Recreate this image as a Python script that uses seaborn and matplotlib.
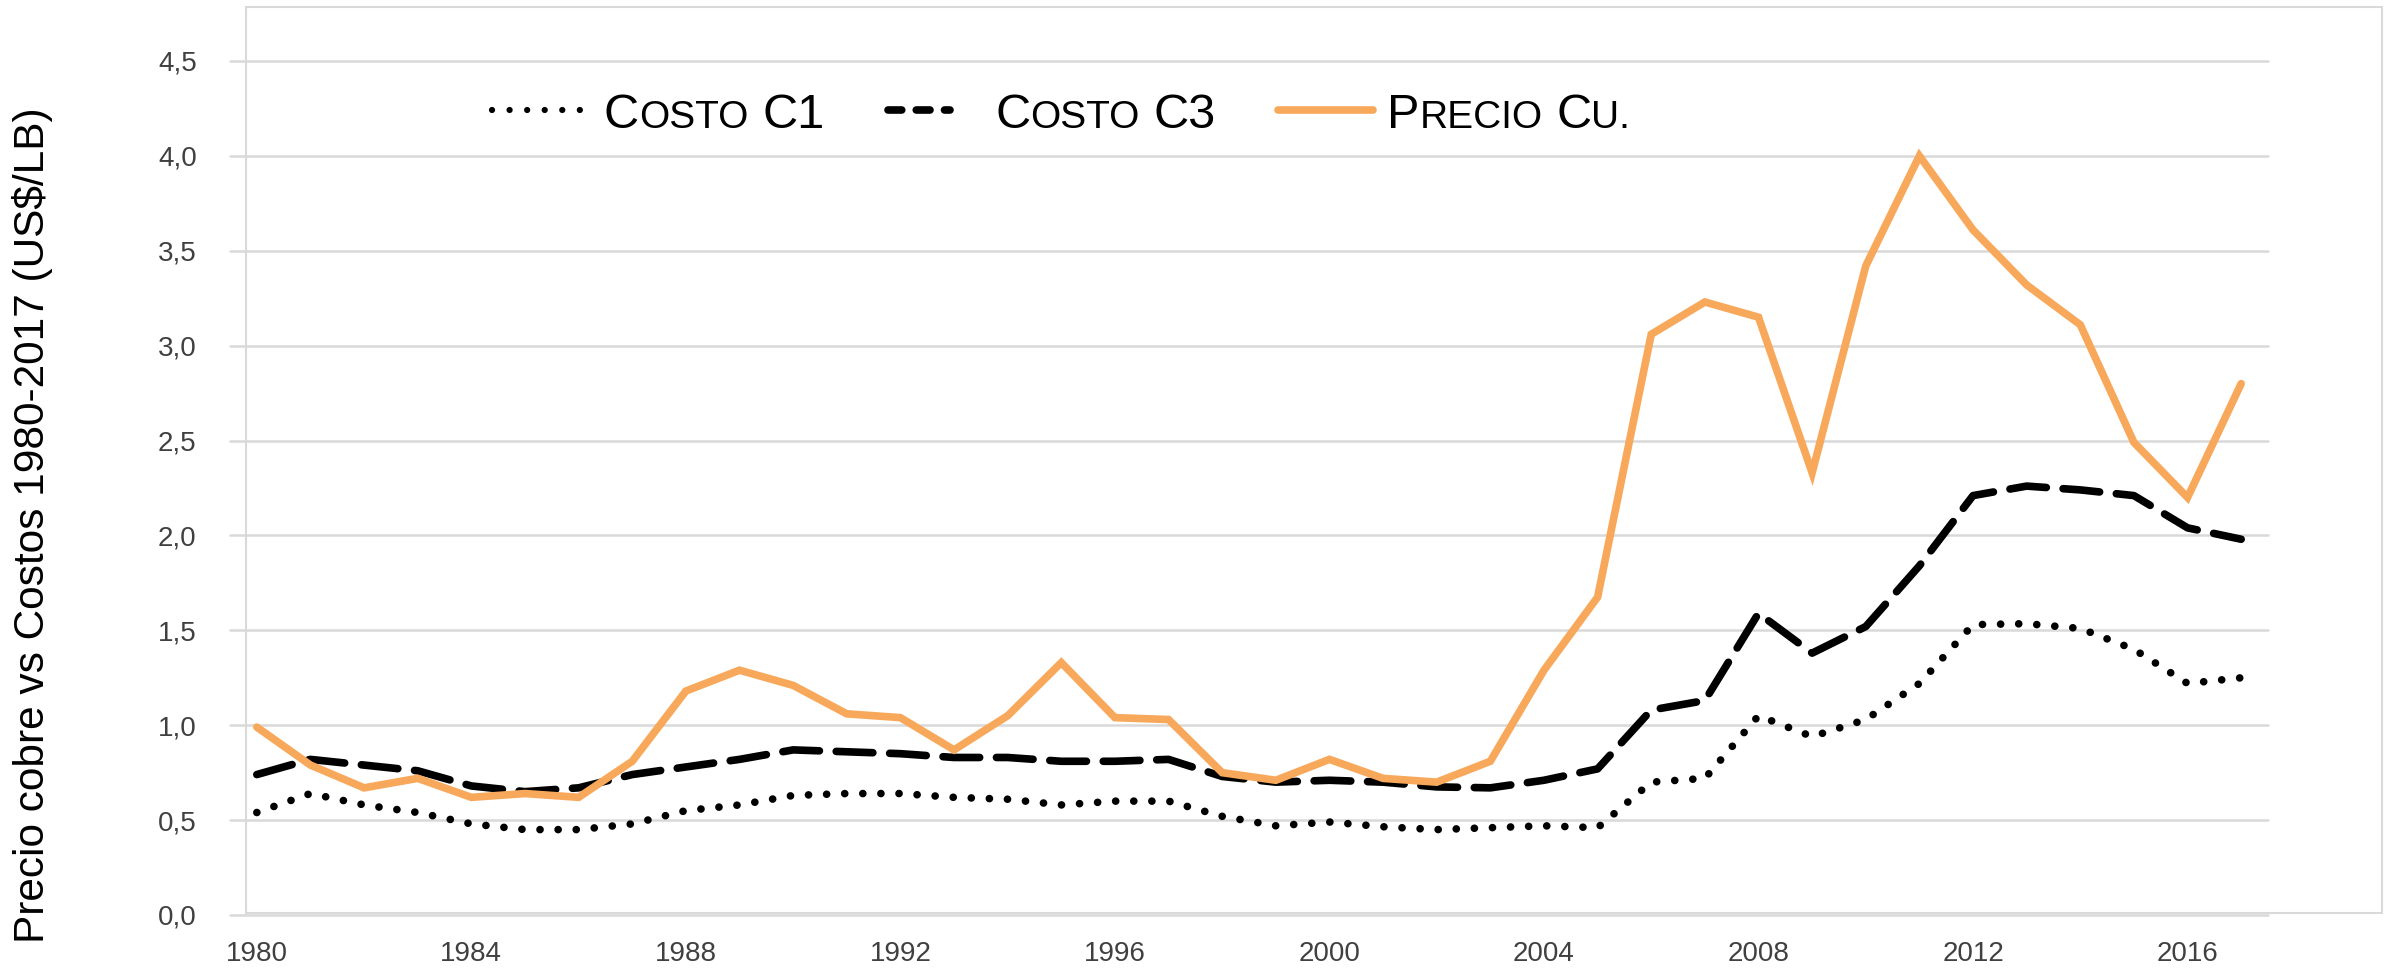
import numpy as np
import pandas as pd
import matplotlib
matplotlib.use("Agg")
import matplotlib.pyplot as plt
import seaborn as sns
from matplotlib.lines import Line2D
from matplotlib.patches import Rectangle

# ---------------- data ----------------
years = list(range(1980, 2018))
precio_cu = [0.99, 0.79, 0.67, 0.72, 0.62, 0.64, 0.62, 0.81, 1.18, 1.29,
             1.21, 1.06, 1.04, 0.87, 1.05, 1.33, 1.04, 1.03, 0.75, 0.71,
             0.82, 0.72, 0.70, 0.81, 1.29, 1.675, 3.06, 3.23, 3.15, 2.33,
             3.42, 4.00, 3.61, 3.32, 3.11, 2.49, 2.20, 2.80]
costo_c3 = [0.74, 0.82, 0.79, 0.76, 0.68, 0.65, 0.67, 0.74, 0.78, 0.82,
            0.87, 0.86, 0.85, 0.83, 0.83, 0.81, 0.81, 0.82, 0.73, 0.70,
            0.71, 0.70, 0.675, 0.67, 0.71, 0.77, 1.08, 1.13, 1.59, 1.38,
            1.52, 1.84, 2.21, 2.26, 2.24, 2.21, 2.04, 1.98]
costo_c1 = [0.54, 0.64, 0.58, 0.54, 0.48, 0.45, 0.45, 0.48, 0.55, 0.58,
            0.63, 0.64, 0.64, 0.62, 0.61, 0.58, 0.60, 0.60, 0.52, 0.47,
            0.49, 0.465, 0.45, 0.46, 0.47, 0.46, 0.70, 0.72, 1.05, 0.94,
            1.03, 1.22, 1.53, 1.535, 1.51, 1.40, 1.22, 1.25]
xtick_years = [1980, 1984, 1988, 1992, 1996, 2000, 2004, 2008, 2012, 2016]
ytick_values = [0.0, 0.5, 1.0, 1.5, 2.0, 2.5, 3.0, 3.5, 4.0, 4.5]
ytick_labels = ["0,0", "0,5", "1,0", "1,5", "2,0", "2,5", "3,0", "3,5", "4,0", "4,5"]
y_title = "Precio cobre vs Costos 1980-2017 (US$/LB)"

# ---------------- style ----------------
sns.set_theme(style="white")
FONT = ["Liberation Sans", "DejaVu Sans"]
plt.rcParams["font.family"] = FONT

ORANGE = "#F8A85B"
GRID = "#D9D9D9"
TICKC = "#404040"

W, H = 2396, 975
fig = plt.figure(figsize=(W / 100, H / 100), dpi=100)
fig.patch.set_facecolor("white")


def fx(px):
    return px / W


def fy(py):
    return 1 - py / H


# outer chart frame
fig.add_artist(Rectangle((fx(246), fy(913)), fx(2382) - fx(246), fy(7) - fy(913),
                         transform=fig.transFigure, fill=False, ec=GRID, lw=1.5))

ax = fig.add_axes([fx(230), fy(915), fx(2268) - fx(230), fy(61) - fy(915)])
ax.set_facecolor("none")

df = pd.DataFrame({"anio": years, "c1": costo_c1, "c3": costo_c3, "precio": precio_cu})

LW = 5.5
sns.lineplot(data=df, x="anio", y="c1", ax=ax, color="black", lw=LW, legend=False)
l1 = ax.lines[-1]
l1.set_linestyle((0, (0.01, 2.36)))
l1.set_dash_capstyle("round")

sns.lineplot(data=df, x="anio", y="c3", ax=ax, color="black", lw=LW, legend=False)
l3 = ax.lines[-1]
l3.set_linestyle((0, (4.8, 2.2)))
l3.set_dash_capstyle("round")

sns.lineplot(data=df, x="anio", y="precio", ax=ax, color=ORANGE, lw=LW, legend=False)
lp = ax.lines[-1]
lp.set_solid_capstyle("round")
lp.set_solid_joinstyle("miter")

ax.set_xlim(1979.5, 2017.5)
ax.set_ylim(0, 4.5)
ax.set_yticks(ytick_values)
ax.set_yticklabels(ytick_labels)
ax.set_xticks(xtick_years)
ax.set_xticklabels([str(y) for y in xtick_years])
ax.yaxis.grid(True, color=GRID, lw=1.8)
ax.xaxis.grid(False)
ax.set_axisbelow(True)
for gl in ax.get_ygridlines():
    gl.set_clip_on(False)
for s in ax.spines.values():
    s.set_visible(False)
ax.tick_params(axis="both", length=0, labelsize=20, colors=TICKC)
ax.tick_params(axis="x", pad=19)
ax.tick_params(axis="y", pad=24)
ax.set_xlabel("")
ax.set_ylabel("")

fig.text(fx(33), fy(525), y_title, rotation=90, ha="center", va="center",
         fontsize=30.5, color="black")

# ---------------- legend (manual, small caps) ----------------
fig.canvas.draw()
renderer = fig.canvas.get_renderer()
BIG, SMALL = 35, 28
LEG_Y = 110
BASE = 128


def smallcaps(x_px, pieces):
    x = x_px
    for txt, kind in pieces:
        if kind == "sp":
            x += 0.28 * BIG * 100 / 72
            continue
        t = fig.text(fx(x), fy(BASE), txt, fontsize=BIG if kind == "B" else SMALL,
                     ha="left", va="baseline", color="black")
        bb = t.get_window_extent(renderer=renderer)
        x += bb.width


fig.add_artist(Line2D([fx(492), fx(583)], [fy(LEG_Y)] * 2, transform=fig.transFigure,
                      color="black", lw=4.5, linestyle=(0, (0.01, 2.8)),
                      dash_capstyle="round"))
smallcaps(604, [("C", "B"), ("OSTO", "S"), ("", "sp"), ("C1", "B")])

fig.add_artist(Line2D([fx(888), fx(950)], [fy(LEG_Y)] * 2, transform=fig.transFigure,
                      color="black", lw=LW, linestyle=(0, (1.8, 1.9)),
                      dash_capstyle="round"))
smallcaps(995, [("C", "B"), ("OSTO", "S"), ("", "sp"), ("C3", "B")])

fig.add_artist(Line2D([fx(1278), fx(1373)], [fy(LEG_Y)] * 2, transform=fig.transFigure,
                      color=ORANGE, lw=LW, solid_capstyle="round"))
smallcaps(1387, [("P", "B"), ("RECIO", "S"), ("", "sp"), ("C", "B"), ("U.", "S")])

fig.savefig("out.png", dpi=100, facecolor="white")
